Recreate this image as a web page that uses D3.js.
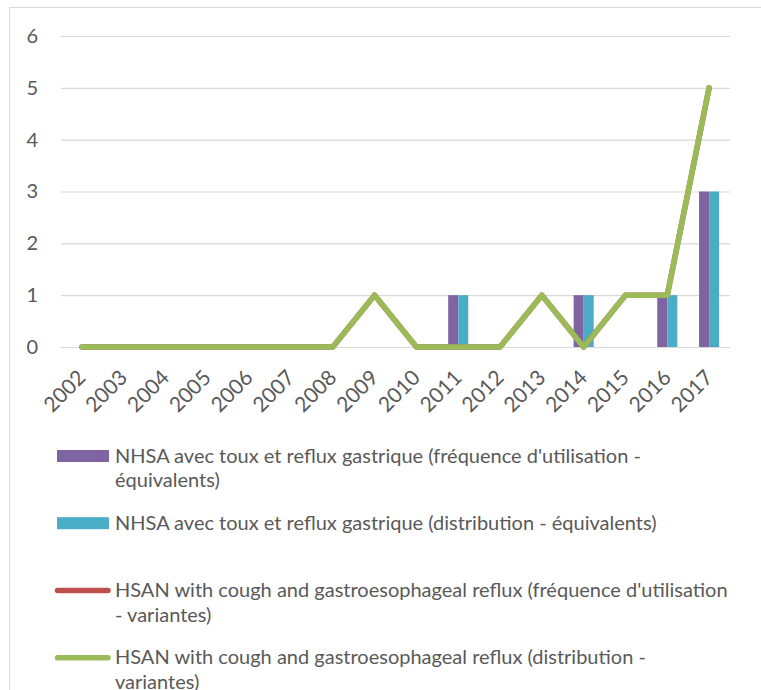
<!DOCTYPE html>
<html>
<head>
<meta charset="utf-8">
<script src="https://cdn.jsdelivr.net/npm/d3@7"></script>
<style>
  body { margin: 0; background: #fff; }
  svg { display: block; font-family: Lato, "Open Sans", sans-serif; }
</style>
</head>
<body>
<svg id="chart" width="761" height="690"></svg>
<script>
var years = ["2002", "2003", "2004", "2005", "2006", "2007", "2008", "2009",
             "2010", "2011", "2012", "2013", "2014", "2015", "2016", "2017"];
var yTicks = [0, 1, 2, 3, 4, 5, 6];

var barNames = [
    "NHSA avec toux et reflux gastrique (fréquence d'utilisation -\néquivalents)",
    "NHSA avec toux et reflux gastrique (distribution - équivalents)"
];
var lineNames = [
    "HSAN with cough and gastroesophageal reflux (fréquence d'utilisation\n- variantes)",
    "HSAN with cough and gastroesophageal reflux (distribution -\nvariantes)"
];
var freqEquivalents    = [0, 0, 0, 0, 0, 0, 0, 0, 0, 1, 0, 0, 1, 0, 1, 3];
var distribEquivalents = [0, 0, 0, 0, 0, 0, 0, 0, 0, 1, 0, 0, 1, 0, 1, 3];
var freqVariantes      = [0, 0, 0, 0, 0, 0, 0, 1, 0, 0, 0, 1, 0, 1, 1, 5];
var distribVariantes   = [0, 0, 0, 0, 0, 0, 0, 1, 0, 0, 0, 1, 0, 1, 1, 5];

var barColors = ["#8064A2", "#4BACC6"];
var lineColors = ["#C0504D", "#9BBB59"];
var textColor = "#595959";

var svg = d3.select("#chart");

// outer chart frame, runs off the right and bottom edges
svg.append("rect")
    .attr("x", 9.5).attr("y", 7.5)
    .attr("width", 800).attr("height", 720)
    .attr("fill", "none")
    .attr("stroke", "#D9D9D9");

var x = d3.scaleBand().domain(years).range([61, 730]);
var y = d3.scaleLinear().domain([0, 6]).range([347, 36]);

var barData = [freqEquivalents, distribEquivalents];
var lineData = [freqVariantes, distribVariantes];

var barW = x.bandwidth() * 0.24;
var x1 = d3.scaleBand().domain([0, 1]).range([-barW, barW]);

// gridlines
svg.append("g").selectAll("line")
    .data(yTicks)
    .join("line")
    .attr("x1", 61).attr("x2", 730)
    .attr("y1", function(d) { return y(d) + 0.5; })
    .attr("y2", function(d) { return y(d) + 0.5; })
    .attr("stroke", "#D9D9D9")
    .attr("stroke-width", 1.2);

// y axis labels
var yAxis = svg.append("g")
    .attr("transform", "translate(61,0)")
    .call(d3.axisLeft(y).tickValues(yTicks).tickSize(0).tickPadding(23).tickFormat(d3.format("d")));
yAxis.select(".domain").remove();
yAxis.selectAll("text")
    .attr("fill", textColor)
    .style("font-size", "20px")
    .style("font-family", "Lato, 'Open Sans', sans-serif");

// x axis labels, rotated
var xAxis = svg.append("g")
    .attr("transform", "translate(0," + y(0) + ")")
    .call(d3.axisBottom(x).tickSize(0));
xAxis.select(".domain").remove();
xAxis.selectAll("text")
    .attr("x", 0).attr("y", 0).attr("dy", 0)
    .attr("text-anchor", "end")
    .attr("transform", "translate(5,32) rotate(-45)")
    .attr("fill", textColor)
    .style("font-size", "21px")
    .style("font-family", "Lato, 'Open Sans', sans-serif");

// bars
barData.forEach(function(values, s) {
    svg.append("g").selectAll("rect")
        .data(values)
        .join("rect")
        .attr("x", function(d, i) { return x(years[i]) + x.bandwidth() / 2 + x1(s); })
        .attr("width", x1.bandwidth())
        .attr("y", function(d) { return y(d); })
        .attr("height", function(d) { return y(0) - y(d); })
        .attr("fill", barColors[s]);
});

// lines
var line = d3.line()
    .x(function(d, i) { return x(years[i]) + x.bandwidth() / 2; })
    .y(function(d) { return y(d); });

lineData.forEach(function(values, s) {
    svg.append("path")
        .datum(values)
        .attr("d", line)
        .attr("fill", "none")
        .attr("stroke", lineColors[s])
        .attr("stroke-width", 5.5)
        .attr("stroke-linejoin", "round")
        .attr("stroke-linecap", "round");
});

// legend
var legendItems = barNames.map(function(n, i) { return { name: n, color: barColors[i], kind: "bar" }; })
    .concat(lineNames.map(function(n, i) { return { name: n, color: lineColors[i], kind: "line" }; }));

var legend = svg.append("g").selectAll("g")
    .data(legendItems)
    .join("g")
    .attr("transform", function(d, i) { return "translate(0," + (462.7 + i * 67.2) + ")"; });

legend.filter(function(d) { return d.kind == "bar"; })
    .append("rect")
    .attr("x", 57).attr("y", -12.7)
    .attr("width", 52).attr("height", 12)
    .attr("fill", function(d) { return d.color; });

legend.filter(function(d) { return d.kind == "line"; })
    .append("line")
    .attr("x1", 57.5).attr("x2", 108)
    .attr("y1", -6.6).attr("y2", -6.6)
    .attr("stroke", function(d) { return d.color; })
    .attr("stroke-width", 5.5)
    .attr("stroke-linecap", "round");

legend.append("text")
    .attr("x", 115)
    .attr("fill", textColor)
    .style("font-size", "20px")
    .selectAll("tspan")
    .data(function(d) { return d.name.split("\n"); })
    .join("tspan")
    .attr("x", 115)
    .attr("dy", function(d, i) { return i ? 24.5 : 0; })
    .text(function(d) { return d; });
</script>
</body>
</html>
